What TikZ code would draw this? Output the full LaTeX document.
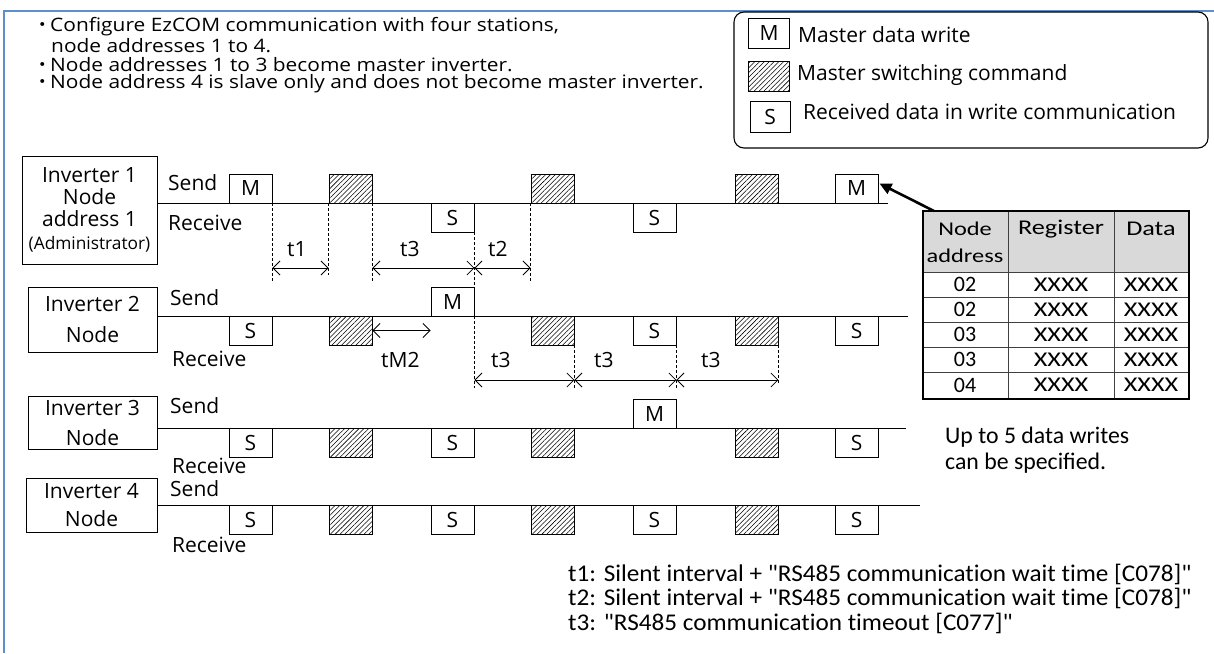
\documentclass[tikz,border=0pt]{standalone}
\usepackage{fontspec}
\setmainfont{Open Sans}
\newfontfamily\osw[FakeStretch=1.13]{Open Sans}
\newfontfamily\calfont[Numbers=Lining]{Carlito}
\newfontfamily\calnote[Numbers=Lining,FakeStretch=1.05,Ligatures=NoCommon]{Carlito}
\newfontfamily\calwide[Numbers=Lining,FakeStretch=1.25]{Carlito}
\newfontfamily\cjkfont{Noto Sans CJK JP}
\usetikzlibrary{arrows.meta,patterns.meta}
\definecolor{framebl}{HTML}{5B8FD0}
\definecolor{hdrgray}{HTML}{D9D9D9}
\newcommand\bul{{\cjkfont\makebox[15pt][c]{・}}}
\begin{document}
\begin{tikzpicture}[x=1pt,y=-1pt,
  mf/.style={font=\fontsize{21}{23}\selectfont},
  txt/.style={mf, inner sep=0pt, anchor=west},
  btxt/.style={font=\osw\fontsize{18.5}{20}\selectfont, inner sep=0pt, anchor=west},
  msg/.style={draw, line width=0.9pt, minimum width=43pt, minimum height=29pt, inner sep=0pt, mf, fill=white},
  hat/.style={msg, pattern={Lines[angle=45,distance=3.4pt,line width=0.55pt]}},
  invbox/.style={draw, line width=0.9pt, inner sep=0pt, align=center},
  tl/.style={line width=0.9pt},
  dsh/.style={dashed, dash pattern=on 3pt off 2pt, line width=0.6pt},
  dim/.style={line width=0.8pt, {Straight Barb[length=7pt,width=14pt]}-{Straight Barb[length=7pt,width=14pt]}},
  cal/.style={font=\calfont\fontsize{23.8}{26}\selectfont, inner sep=0pt, anchor=west},
  note/.style={font=\calnote\fontsize{24}{26}\selectfont, inner sep=0pt, anchor=west},
  tcell/.style={font=\calwide\fontsize{21}{24}\selectfont, inner sep=0pt},
  ncell/.style={font=\calfont\fontsize{22}{24}\selectfont, inner sep=0pt},
  bigarr/.style={line width=2.6pt, -{Triangle[length=12pt,width=11pt]}},
]
\useasboundingbox (0,0) rectangle (1214,653);
% frame
\draw[framebl, line width=1.5pt] (4,653) -- (4,11) -- (1214,11);

% notes
\node[btxt] (b1) at (35,27) {\bul Configure EzCOM communication with four stations,};
\node[btxt] (b1b) at (51,46) {node addresses 1 to 4.};
\node[btxt] (b2) at (35,65) {\bul Node addresses 1 to 3 become master inverter.};
\node[btxt] (b3) at (35,84) {\bul Node address 4 is slave only and does not become master inverter.};

% legend
\node[draw, line width=1.1pt, rounded corners=10pt, minimum width=474pt, minimum height=136pt] (leg) at (971,80) {};
\node[msg, minimum width=41pt, minimum height=30pt] (lm) at (769,33) {M};
\node[hat, minimum width=41pt, minimum height=30pt] (lh) at (768.5,76) {};
\node[msg, minimum width=40pt, minimum height=31pt] (ls) at (770,116.5) {S};
\node[txt] (lmt) at (798,35) {Master data write};
\node[txt] (lht) at (797,75) {Master switching command};
\node[txt] (lst) at (803,112) {Received data in write communication};

% inverter boxes
\node[invbox, minimum width=135pt, minimum height=108pt, font=\fontsize{21}{22}\selectfont] (inv1) at (89.5,210) {Inverter 1\\Node\\address 1\\[1pt]{\fontsize{17.3}{20}\selectfont(Administrator)}};
\node[invbox, minimum width=129pt, minimum height=65pt, font=\fontsize{21}{31}\selectfont] (inv2) at (92.5,319.5) {Inverter 2\\Node};
\node[invbox, minimum width=129pt, minimum height=53pt, font=\fontsize{21}{30}\selectfont] (inv3) at (92.5,422.5) {Inverter 3\\Node};
\node[invbox, minimum width=131pt, minimum height=54pt, font=\fontsize{21}{28}\selectfont] (inv4) at (91.5,505) {Inverter 4\\Node};

% timeline lines
\coordinate (l1s) at (157,203); \coordinate (l1e) at (888,203);
\coordinate (l2s) at (157,316); \coordinate (l2e) at (908,316);
\coordinate (l3s) at (157,428); \coordinate (l3e) at (906,428);
\coordinate (l4s) at (157,505); \coordinate (l4e) at (920,505);
\draw[tl] (l1s) -- (l1e);
\draw[tl] (l2s) -- (l2e);
\draw[tl] (l3s) -- (l3e);
\draw[tl] (l4s) -- (l4e);

% send / receive labels
\node[txt] (s1) at (168,183) {Send};
\node[txt] (r1) at (168,223) {Receive};
\node[txt] (s2) at (170,298) {Send};
\node[txt] (r2) at (172,359) {Receive};
\node[txt] (s3) at (170,406) {Send};
\node[txt] (r3) at (172,466) {Receive};
\node[txt] (s4) at (170,489) {Send};
\node[txt] (r4) at (172,545) {Receive};

% row 1
\node[msg] (m11) at (250.5,188.5) {M};
\node[hat] (h12) at (350.5,188.5) {};
\node[msg] (s13) at (452.5,217.5) {S};
\node[hat] (h14) at (552.5,188.5) {};
\node[msg] (s15) at (654.5,217.5) {S};
\node[hat] (h16) at (756.5,188.5) {};
\node[msg] (m17) at (856.5,188.5) {M};
% row 2
\node[msg] (s21) at (250.5,330.5) {S};
\node[hat] (h22) at (350.5,330.5) {};
\node[msg] (m23) at (452.5,301.5) {M};
\node[hat] (h24) at (552.5,330.5) {};
\node[msg] (s25) at (654.5,330.5) {S};
\node[hat] (h26) at (756.5,330.5) {};
\node[msg] (s27) at (856.5,330.5) {S};
% row 3
\node[msg] (s31) at (250.5,442.5) {S};
\node[hat] (h32) at (350.5,442.5) {};
\node[msg] (s33) at (452.5,442.5) {S};
\node[hat] (h34) at (552.5,442.5) {};
\node[msg] (m35) at (654.5,413.5) {M};
\node[hat] (h36) at (756.5,442.5) {};
\node[msg] (s37) at (856.5,442.5) {S};
% row 4
\node[msg] (s41) at (250.5,519.5) {S};
\node[hat] (h42) at (350.5,519.5) {};
\node[msg] (s43) at (452.5,519.5) {S};
\node[hat] (h44) at (552.5,519.5) {};
\node[msg] (s45) at (654.5,519.5) {S};
\node[hat] (h46) at (756.5,519.5) {};
\node[msg] (s47) at (856.5,519.5) {S};

% dashed guides
\draw[dsh] (m11.south east) -- (m11.south east |- 0,282);
\draw[dsh] (h12.south west) -- (h12.south west |- 0,275);
\draw[dsh] (h12.south east) -- (h12.south east |- 0,282);
\draw[dsh] (s13.south east) -- (m23.north east);
\draw[dsh] (h14.south west) -- (h14.south west |- 0,282);
\draw[dsh] (m23.south east) -- (m23.south east |- 0,388);
\draw[dsh] (h24.south east) -- (h24.south east |- 0,390);
\draw[dsh] (s25.south east) -- (s25.south east |- 0,388);
\draw[dsh] (h26.south east) -- (h26.south east |- 0,384);

% dimension arrows
\draw[dim] (m11.south east |- 0,268) -- (h12.south west |- 0,268);
\draw[dim] (h12.south east |- 0,268) -- (s13.south east |- 0,268);
\draw[dim] (s13.south east |- 0,268) -- (h14.south west |- 0,268);
\node[txt] (t1) at (287,249) {t1};
\node[txt] (t3a) at (400,249) {t3};
\node[txt] (t2) at (488,249) {t2};

\draw[dim] (h22.east) -- (m23.west |- h22.east);
\node[txt] (tm2) at (381,360) {tM2};

\draw[dim] (m23.south east |- 0,380) -- (h24.south east |- 0,380);
\draw[dim] (h24.south east |- 0,380) -- (s25.south east |- 0,380);
\draw[dim] (s25.south east |- 0,380) -- (h26.south east |- 0,380);
\node[txt] (t3b) at (491,360) {t3};
\node[txt] (t3c) at (594,360) {t3};
\node[txt] (t3d) at (701,360) {t3};

% table
\fill[hdrgray] (922,210) rectangle (1188,272);
\draw[line width=0.7pt, black!75] (922,272) -- (1188,272)
  (922,297) -- (1188,297) (922,322) -- (1188,322)
  (922,347) -- (1188,347) (922,372) -- (1188,372)
  (1008,210) -- (1008,398) (1114,210) -- (1114,398);
\node[draw, line width=2pt, minimum width=266pt, minimum height=188pt, anchor=north west, inner sep=0pt] (tbl) at (922,210) {};
\node[tcell, align=center, font=\calwide\fontsize{19.5}{27}\selectfont] (hc1) at (965,242) {Node\\address};
\node[tcell] (hc2) at (1061,229) {Register};
\node[tcell] (hc3) at (1151,229) {Data};
\foreach \y/\n [count=\i] in {284.5/02,309.5/02,334.5/03,359.5/03,385/04}{
  \node[ncell] (ra\i) at (965,\y) {\n};
  \node[tcell] (rb\i) at (1061,\y) {XXXX};
  \node[tcell] (rc\i) at (1151,\y) {XXXX};
}
\draw[bigarr] ([xshift=12pt,yshift=-1pt]tbl.north west) -- ([xshift=1pt,yshift=5pt]m17.east);

\node[cal] (up1) at (945,437) {Up to 5 data writes};
\node[cal] (up2) at (945,463) {can be specified.};

% footnotes
\node[note] (n1) at (568,574) {t1: Silent interval + "RS485 communication wait time [C078]"};
\node[note] (n2) at (568,598) {t2: Silent interval + "RS485 communication wait time [C078]"};
\node[note] (n3) at (568,623) {t3: "RS485 communication timeout [C077]"};
\end{tikzpicture}
\end{document}
